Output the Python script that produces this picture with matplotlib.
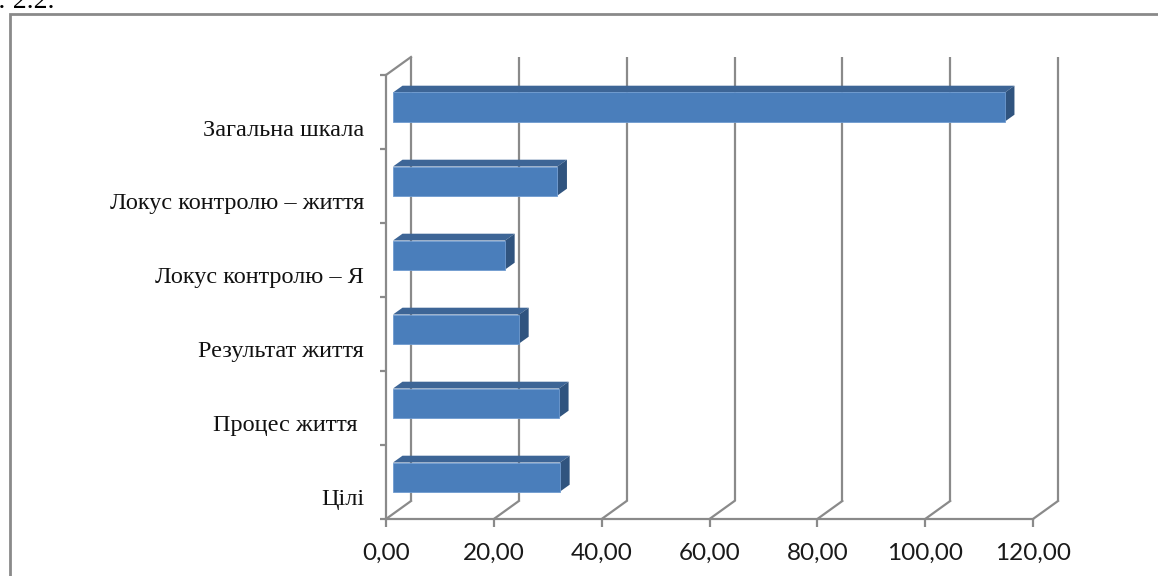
import matplotlib
matplotlib.use("Agg")
import matplotlib.pyplot as plt
from matplotlib.patches import Polygon, Rectangle

# scale names, bottom to top
categories = ["Цілі", "Процес життя ", "Результат життя", "Локус контролю – Я",
              "Локус контролю – життя", "Загальна шкала"]
values = [31.0, 30.8, 23.4, 20.8, 30.5, 113.5]
x_ticks = [0, 20, 40, 60, 80, 100, 120]

W, H = 1158, 576
fig = plt.figure(figsize=(W / 100, H / 100), dpi=100)

# plot region of the front plane, in pixels
left, right, top, bottom = 386, 1033, 75, 519
ax = fig.add_axes([left / W, (H - bottom) / H, (right - left) / W, (bottom - top) / H])
ax.set_xlim(0, 120)
ax.set_ylim(-0.5, len(categories) - 0.5)
for s in ax.spines.values():
    s.set_visible(False)

grey = "#8a8a8a"
px_x = 120 / (right - left)              # data units per pixel
px_y = len(categories) / (bottom - top)

# depth of the 3d box
depth_x, depth_y = 25 * px_x, 18 * px_y
y0, y1 = -0.5, len(categories) - 0.5
lw = 1.6

# back wall gridlines + floor diagonals
for t in x_ticks:
    ax.plot([t + depth_x, t + depth_x], [y0 + depth_y, y1 + depth_y], color=grey, lw=lw,
            clip_on=False, zorder=1, solid_capstyle="butt")
    ax.plot([t, t + depth_x], [y0, y0 + depth_y], color=grey, lw=lw, clip_on=False, zorder=1)
# floor front edge and left wall
ax.plot([0, 120], [y0, y0], color=grey, lw=lw, clip_on=False, zorder=1)
ax.plot([0, 0], [y0, y1], color=grey, lw=lw, clip_on=False, zorder=1)
ax.plot([0, depth_x], [y1, y1 + depth_y], color=grey, lw=lw, clip_on=False, zorder=1)

# ticks
ax.set_xticks(x_ticks)
ax.set_xticklabels([f"{t:.2f}".replace(".", ",") for t in x_ticks],
                   fontfamily="Lato", fontsize=17.5, color="#1a1a1a")
ax.tick_params(axis="x", length=6, width=lw, color=grey, pad=11)
ax.set_yticks([k - 0.5 for k in range(len(categories) + 1)])
ax.set_yticklabels([])
ax.tick_params(axis="y", length=4.5, width=lw, color=grey)

# category labels
for i, name in enumerate(categories):
    ax.text(-22 * px_x, i - 18 * px_y, name, ha="right", va="center",
            fontfamily="Liberation Serif", fontsize=17.5, color="#111111", clip_on=False)

# 3d bars
front_c, top_c, side_c = "#4a7ebb", "#3d6596", "#30547f"
bar_h = 29 * px_y
d0x, d0y = 7 * px_x, 5 * px_y
d1x, d1y = 16.5 * px_x, 11.8 * px_y
for i, v in enumerate(values):
    yb, yt = i - bar_h / 2, i + bar_h / 2
    ax.add_patch(Polygon([(d0x, yt + d0y), (v + d0x, yt + d0y), (v + d1x, yt + d1y), (d1x, yt + d1y)],
                         closed=True, facecolor=top_c, edgecolor="none", zorder=3, clip_on=False))
    ax.add_patch(Polygon([(v + d0x, yb + d0y), (v + d0x, yt + d0y), (v + d1x, yt + d1y), (v + d1x, yb + d1y)],
                         closed=True, facecolor=side_c, edgecolor="none", zorder=3, clip_on=False))
    ax.add_patch(Rectangle((d0x, yb + d0y), v, bar_h, facecolor=front_c, edgecolor="#6f9bd0",
                           lw=0.6, zorder=4, clip_on=False))

# outer chart frame
fig.patches.append(Rectangle((10 / W, -0.05), 1.1, 1.05 - 14 / H, transform=fig.transFigure,
                             fill=False, edgecolor=grey, lw=2))
fig.text(-2 / W, 1 - 8 / H, ": 2.2.", fontfamily="Liberation Serif", fontsize=20,
         va="baseline", ha="left", color="black")

fig.savefig("out.png", dpi=100)
